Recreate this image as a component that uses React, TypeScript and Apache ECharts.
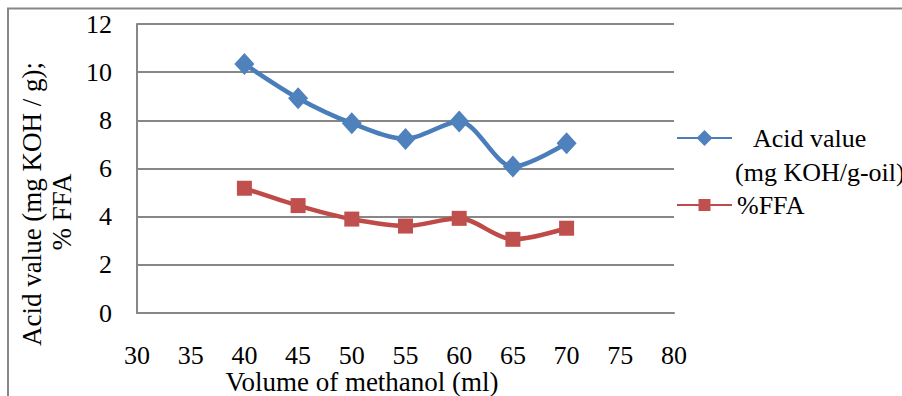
import React, { useEffect, useRef } from "react";
import * as echarts from "echarts";

const volumes = [40, 45, 50, 55, 60, 65, 70];
const acidValue = [10.34, 8.92, 7.88, 7.23, 7.95, 6.08, 7.05];
const ffa = [5.18, 4.46, 3.9, 3.61, 3.93, 3.06, 3.52];
const seriesNames = ["Acid value", "%FFA"];
const yTitle1 = "Acid value (mg KOH / g);";
const yTitle2 = "% FFA";
const xTitle = "Volume of methanol (ml)";
const legendSecondLine = "(mg KOH/g-oil)";

const FONT = "Liberation Serif";
const GRAY = "#878787";

export default function App() {
  const ref = useRef<HTMLDivElement>(null);
  useEffect(() => {
    if (!ref.current) return;
    const chart = echarts.init(ref.current, undefined, { renderer: "svg" });
    const toPairs = (ys: number[]) => volumes.map((x, i) => [x, ys[i]]);
    const txt = (text: string, extra: any) => ({
      type: "text",
      ...extra,
      style: {
        text,
        fontSize: 26,
        fontFamily: FONT,
        fill: "#000",
        ...(extra.style || {}),
      },
    });
    chart.setOption({
      animation: false,
      backgroundColor: "#ffffff",
      textStyle: { fontFamily: FONT },
      grid: { left: 137, top: 24, right: 228, bottom: 83, containLabel: false },
      xAxis: {
        type: "value",
        min: 30,
        max: 80,
        interval: 5,
        splitLine: { show: false },
        axisLine: { show: true, lineStyle: { color: GRAY, width: 2 } },
        axisTick: { show: false },
        axisLabel: { margin: 29, fontSize: 26, fontFamily: FONT, color: "#000" },
      },
      yAxis: {
        type: "value",
        min: 0,
        max: 12,
        interval: 2,
        splitLine: { show: true, lineStyle: { color: GRAY, width: 2 } },
        axisLine: { show: true, lineStyle: { color: GRAY, width: 2 } },
        axisTick: { show: false },
        axisLabel: { margin: 25, fontSize: 26, fontFamily: FONT, color: "#000" },
      },
      legend: [
        {
          data: [seriesNames[0]],
          left: 676,
          top: 125,
          padding: 0,
          itemWidth: 55,
          itemHeight: 20,
          formatter: (n: string) => "{a|" + n + "}",
          textStyle: {
            fontSize: 26,
            fontFamily: FONT,
            color: "#000",
            rich: { a: { fontSize: 26, fontFamily: FONT, color: "#000", padding: [0, 0, 0, 16] } },
          },
        },
        {
          data: [seriesNames[1]],
          left: 676,
          top: 192,
          padding: 0,
          itemWidth: 55,
          itemHeight: 15,
          textStyle: { fontSize: 26, fontFamily: FONT, color: "#000" },
        },
      ],
      graphic: [
        {
          type: "rect",
          shape: { x: 8, y: 8.5, width: 1000, height: 1000 },
          style: { fill: "none", stroke: GRAY, lineWidth: 2 },
          silent: true,
        },
        txt("n.", { x: 0, y: 3, style: { verticalAlign: "bottom" } }),
        txt(yTitle1, { x: 32, y: 204, rotation: Math.PI / 2, style: { fontSize: 27, align: "center", verticalAlign: "middle" } }),
        txt(yTitle2, { x: 62, y: 212, rotation: Math.PI / 2, style: { fontSize: 27, align: "center", verticalAlign: "middle" } }),
        txt(xTitle, { x: 362, y: 382, style: { fontSize: 27, align: "center", verticalAlign: "middle" } }),
        txt(legendSecondLine, { x: 735, y: 172, style: { align: "left", verticalAlign: "middle" } }),
      ],
      series: [
        {
          name: seriesNames[0],
          type: "line",
          data: toPairs(acidValue),
          smooth: 0.3,
          symbol: "diamond",
          symbolSize: [20, 22],
          lineStyle: { color: "#4A7EBB", width: 4.5 },
          itemStyle: { color: "#4F81BD" },
        },
        {
          name: seriesNames[1],
          type: "line",
          data: toPairs(ffa),
          smooth: 0.3,
          symbol: "rect",
          symbolSize: 15,
          lineStyle: { color: "#BE4B48", width: 4.5 },
          itemStyle: { color: "#C0504D" },
        },
      ],
    });
    return () => chart.dispose();
  }, []);
  return (
    <div
      ref={ref}
      style={{ position: "fixed", left: 0, top: 0, width: 902, height: 396, background: "#fff" }}
    />
  );
}
